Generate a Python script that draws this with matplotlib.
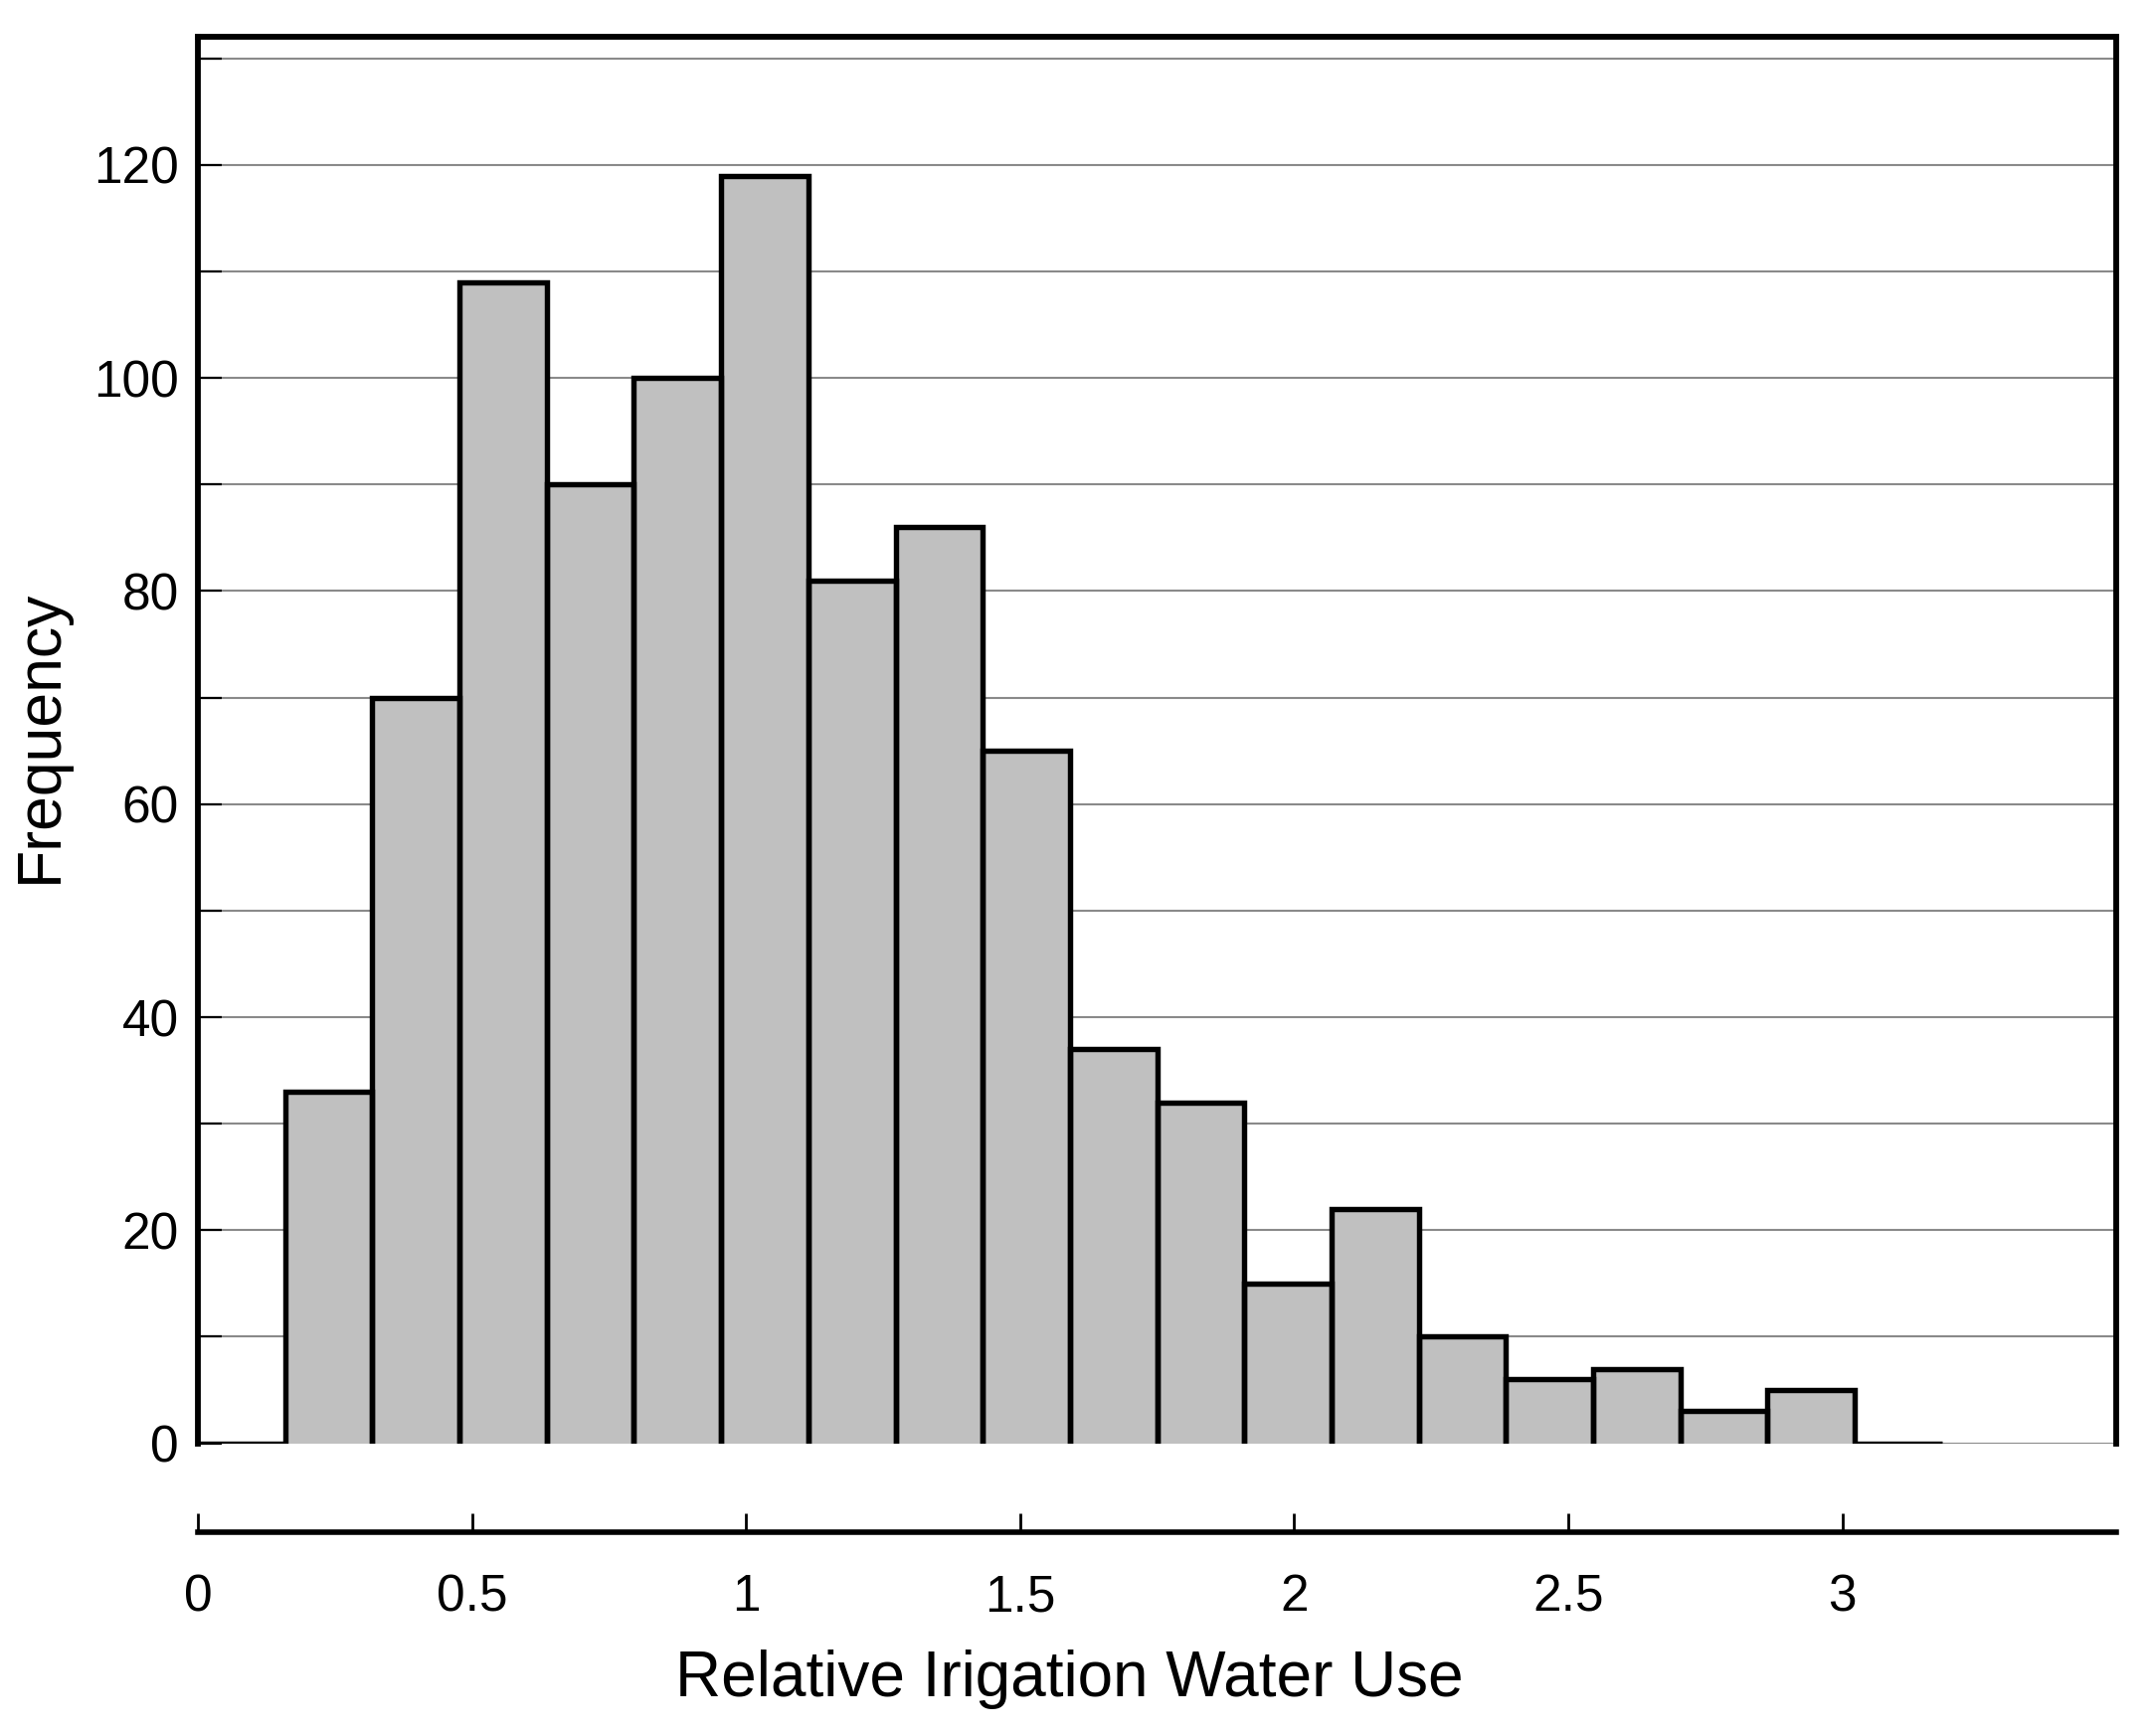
"""Histogram of relative irrigation water use."""

import matplotlib

matplotlib.use("Agg")
import matplotlib.pyplot as plt
from matplotlib.ticker import FuncFormatter, MultipleLocator

# bin layout: 22 equal bins over 0 .. 3.5, only the first 20 are drawn
x_min = 0.0
x_max = 3.5
n_bins = 22
counts = [0, 33, 70, 109, 90, 100, 119, 81, 86, 65,
          37, 32, 15, 22, 10, 6, 7, 3, 5, 0]
x_ticks = [0, 0.5, 1, 1.5, 2, 2.5, 3]
y_max = 132

plt.rcParams["font.family"] = ["Liberation Sans", "DejaVu Sans"]

bin_width = (x_max - x_min) / n_bins
lefts = [x_min + i * bin_width for i in range(len(counts))]

fig = plt.figure(figsize=(21.64, 17.46), dpi=100)
ax = fig.add_axes([0.0920, 0.1686, 0.8914, 0.8100])

ax.bar(lefts, counts, width=bin_width, align="edge", color="#c0c0c0",
       linewidth=0, zorder=2)
for left, count in zip(lefts, counts):
    right = left + bin_width
    ax.plot([left, left, right, right], [0, count, count, 0],
            color="black", linewidth=3.9, solid_joinstyle="miter",
            solid_capstyle="butt", zorder=3)

ax.set_xlim(x_min, x_max)
ax.set_ylim(0, y_max)

# frame
for side in ("left", "top", "right"):
    ax.spines[side].set_linewidth(4.2)
    ax.spines[side].set_color("black")
ax.spines["right"].set_bounds(0, y_max)
ax.spines["left"].set_bounds(0, y_max)
ax.spines["bottom"].set_position(("outward", 64))
ax.spines["bottom"].set_linewidth(4.0)
ax.spines["bottom"].set_bounds(x_min, x_max)

# y axis
ax.yaxis.set_major_locator(MultipleLocator(10))
ax.yaxis.set_major_formatter(
    FuncFormatter(lambda v, _: f"{int(v)}" if int(v) % 20 == 0 else ""))
ax.tick_params(axis="y", which="major", direction="in", length=17, width=1.6,
               left=True, right=False, labelsize=37, pad=14)
ax.grid(axis="y", color="#8a8a8a", linewidth=1.5, zorder=1)
ax.set_axisbelow(True)

# x axis
ax.set_xticks(x_ticks)
ax.xaxis.set_major_formatter(FuncFormatter(lambda v, _: f"{v:g}"))
ax.tick_params(axis="x", direction="in", length=14, width=2.0,
               labelsize=37, pad=30)

fig.text(0.4968, 0.0326, "Relative Irigation Water Use", fontsize=46,
         ha="center", va="center")
fig.text(0.0185, 0.576, "Frequency", fontsize=45, rotation=90,
         ha="center", va="center")

fig.savefig("out.png", dpi=100, facecolor="white")
